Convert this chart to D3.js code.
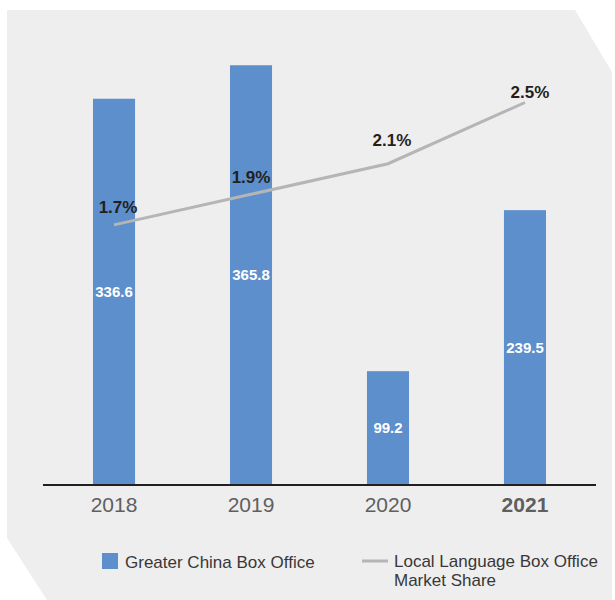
<!DOCTYPE html>
<html>
<head>
<meta charset="utf-8">
<script src="https://cdn.jsdelivr.net/npm/d3@7"></script>
<style>
  html, body { margin: 0; padding: 0; background: #ffffff; }
  svg { display: block; font-family: "Liberation Sans", Arial, Helvetica, sans-serif; }
</style>
</head>
<body>
<svg id="chart" width="615" height="600"></svg>
<script>
// ---- data ----
const years = ["2018", "2019", "2020", "2021"];
const boxOffice = [336.6, 365.8, 99.2, 239.5];
const marketShare = [1.7, 1.9, 2.1, 2.5];
const shareLabels = ["1.7%", "1.9%", "2.1%", "2.5%"];
const boldYears = ["2021"];
const legendBar = "Greater China Box Office";
const legendLine = ["Local Language Box Office", "Market Share"];

// label nudges (layout, not data)
const shareLabelDx = [4, 0, 4, 5];
const shareLabelDy = [-12, -11, -18, -5];

const svg = d3.select("#chart");

// background panel with cut corners
svg.append("path")
  .attr("d", "M7,10 L575,10 L612,72 L612,600 L47,600 L7,538 Z")
  .attr("fill", "#eeeeee");

const baseY = 485;
const topY = 26;

const x = d3.scaleBand()
  .domain(years)
  .range([45.5, 593.5])
  .paddingInner(0.693)
  .paddingOuter(0.3467);

const y = d3.scaleLinear().domain([0, 400]).range([baseY, topY]);
const y2 = d3.scaleLinear().domain([0, 3]).range([baseY, topY]);

// bars
svg.append("g").selectAll("rect")
  .data(years)
  .join("rect")
  .attr("x", d => x(d))
  .attr("y", (d, i) => y(boxOffice[i]))
  .attr("width", x.bandwidth())
  .attr("height", (d, i) => baseY - y(boxOffice[i]))
  .attr("fill", "#5d8fcc");

// bar value labels
svg.append("g").selectAll("text")
  .data(years)
  .join("text")
  .attr("x", d => x(d) + x.bandwidth() / 2)
  .attr("y", (d, i) => (y(boxOffice[i]) + baseY) / 2)
  .attr("dy", "0.35em")
  .attr("text-anchor", "middle")
  .attr("fill", "#ffffff")
  .attr("font-size", 15)
  .attr("font-weight", "bold")
  .text((d, i) => boxOffice[i].toFixed(1));

// baseline
svg.append("line")
  .attr("x1", 43).attr("x2", 596)
  .attr("y1", baseY).attr("y2", baseY)
  .attr("stroke", "#231f20")
  .attr("stroke-width", 2);

// x axis labels
const axis = d3.axisBottom(x).tickSize(0).tickPadding(0);
const gx = svg.append("g")
  .attr("transform", `translate(0,${baseY})`)
  .call(axis);
gx.select(".domain").remove();
gx.selectAll(".tick text")
  .attr("y", 27)
  .attr("dy", 0)
  .attr("font-size", 21)
  .attr("font-family", "Liberation Sans, Arial, sans-serif")
  .attr("fill", "#5f5f5f")
  .attr("font-weight", d => boldYears.includes(d) ? "bold" : "normal");

// line
const line = d3.line()
  .x((d, i) => x(years[i]) + x.bandwidth() / 2)
  .y(d => y2(d));

svg.append("path")
  .datum(marketShare)
  .attr("d", line)
  .attr("fill", "none")
  .attr("stroke", "#b5b5b5")
  .attr("stroke-width", 3);

// share labels
svg.append("g").selectAll("text")
  .data(marketShare)
  .join("text")
  .attr("x", (d, i) => x(years[i]) + x.bandwidth() / 2 + shareLabelDx[i])
  .attr("y", (d, i) => y2(d) + shareLabelDy[i])
  .attr("text-anchor", "middle")
  .attr("fill", "#231f20")
  .attr("font-size", 17)
  .attr("font-weight", "bold")
  .text((d, i) => shareLabels[i]);

// legend
const lg = svg.append("g");
lg.append("rect")
  .attr("x", 102).attr("y", 553)
  .attr("width", 16).attr("height", 16)
  .attr("fill", "#5d8fcc");
lg.append("text")
  .attr("x", 125).attr("y", 568)
  .attr("font-size", 17)
  .attr("fill", "#3a3738")
  .text(legendBar);

lg.append("line")
  .attr("x1", 362).attr("x2", 388)
  .attr("y1", 561).attr("y2", 561)
  .attr("stroke", "#b5b5b5")
  .attr("stroke-width", 3);
lg.append("text")
  .attr("x", 394).attr("y", 567)
  .attr("font-size", 17)
  .attr("fill", "#3a3738")
  .selectAll("tspan")
  .data(legendLine)
  .join("tspan")
  .attr("x", 394)
  .attr("dy", (d, i) => i === 0 ? 0 : 19)
  .text(d => d);
</script>
</body>
</html>
